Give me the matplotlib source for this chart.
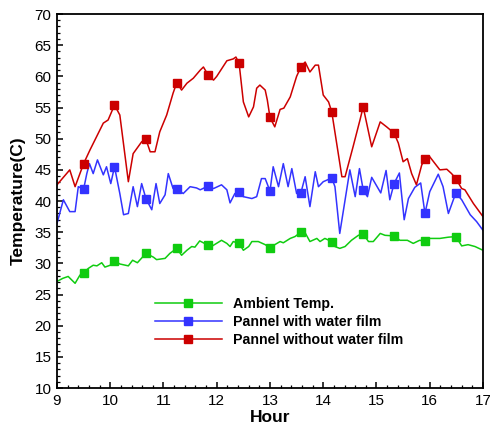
import numpy as np
import matplotlib
matplotlib.use('Agg')
import matplotlib.pyplot as plt
from matplotlib import rcParams
from matplotlib.ticker import MultipleLocator

rcParams['font.family'] = ['Liberation Sans', 'DejaVu Sans']

# hours at which the square markers sit
mark_h = [9.5, 10.08, 10.67, 11.25, 11.84, 12.42, 13.0, 13.58, 14.16, 14.75, 15.33, 15.91, 16.49]

# Pannel without water film
red_h = [9.0, 9.24, 9.34, 9.5, 9.62, 9.87, 9.96, 10.08, 10.18, 10.34, 10.43, 10.59, 10.67,
         10.75, 10.84, 10.93, 11.06, 11.18, 11.25, 11.34, 11.44, 11.56, 11.69, 11.75, 11.84,
         11.94, 12.0, 12.19, 12.31, 12.36, 12.42, 12.5, 12.6, 12.69, 12.75, 12.81, 12.91,
         12.95, 13.0, 13.09, 13.19, 13.26, 13.38, 13.5, 13.58, 13.66, 13.75, 13.85, 13.91,
         14.0, 14.1, 14.16, 14.35, 14.41, 14.56, 14.69, 14.75, 14.91, 15.07, 15.19, 15.33,
         15.41, 15.5, 15.58, 15.66, 15.75, 15.85, 15.91, 16.0, 16.19, 16.32, 16.41, 16.49,
         16.6, 16.66, 16.82, 17.0]
red_t = [42.6, 45.0, 42.3, 46.0, 48.2, 52.5, 53.0, 55.4, 53.8, 43.1, 47.6, 49.5, 49.9,
         47.9, 47.9, 51.1, 53.8, 57.3, 59.0, 57.8, 58.9, 59.7, 61.0, 61.5, 60.2,
         59.4, 60.0, 62.5, 62.8, 63.1, 62.1, 55.9, 53.5, 55.1, 58.1, 58.6, 57.8,
         56.2, 53.4, 51.9, 54.7, 54.9, 56.7, 60.0, 61.5, 62.3, 60.7, 61.8, 61.8,
         57.0, 55.9, 54.3, 43.9, 43.9, 48.7, 53.0, 55.1, 48.7, 52.7, 51.9, 50.9,
         49.3, 46.3, 46.8, 44.4, 42.6, 45.8, 46.7, 47.1, 45.0, 45.1, 44.4, 43.6,
         42.0, 41.8, 39.6, 37.5]

# Pannel with water film
blue_h = [9.0, 9.12, 9.24, 9.34, 9.4, 9.5, 9.56, 9.61, 9.68, 9.76, 9.87, 9.93, 10.01, 10.08,
          10.18, 10.25, 10.34, 10.43, 10.51, 10.59, 10.67, 10.78, 10.86, 10.93, 11.03, 11.09,
          11.18, 11.25, 11.37, 11.5, 11.62, 11.69, 11.84, 11.94, 12.09, 12.19, 12.25, 12.34,
          12.42, 12.5, 12.66, 12.75, 12.84, 12.91, 13.0, 13.06, 13.16, 13.25, 13.34, 13.41,
          13.5, 13.58, 13.66, 13.75, 13.85, 13.91, 14.0, 14.16, 14.22, 14.31, 14.5, 14.6,
          14.68, 14.75, 14.83, 14.91, 15.08, 15.18, 15.25, 15.33, 15.43, 15.52, 15.6, 15.72,
          15.83, 15.91, 16.0, 16.16, 16.25, 16.35, 16.49, 16.6, 16.76, 16.88, 17.0]
blue_t = [36.4, 40.2, 38.3, 38.3, 42.3, 41.9, 44.4, 46.0, 44.4, 46.6, 44.2, 45.5, 42.8, 45.5,
          41.2, 37.8, 38.0, 42.3, 39.1, 42.8, 40.4, 38.6, 42.8, 39.6, 41.0, 44.4,
          42.0, 41.9, 41.2, 42.3, 42.1, 41.8, 42.4, 42.0, 42.6, 41.8, 39.7, 41.2,
          41.4, 40.7, 40.4, 40.7, 43.6, 43.6, 41.6, 45.5, 42.3, 46.0, 42.3, 45.2,
          41.2, 41.3, 43.9, 39.1, 44.7, 42.3, 43.1, 43.7, 42.3, 34.8, 45.0, 40.7,
          45.2, 41.8, 40.7, 43.8, 41.3, 44.9, 40.2, 42.8, 44.5, 37.0, 40.4, 42.2,
          42.9, 38.0, 41.5, 44.3, 42.3, 38.0, 41.3, 40.2, 37.8, 36.7, 35.3]

# Ambient Temp.
green_h = [9.0, 9.11, 9.21, 9.34, 9.43, 9.5, 9.59, 9.68, 9.75, 9.84, 9.9, 10.0, 10.08, 10.18,
           10.34, 10.42, 10.51, 10.67, 10.81, 10.87, 11.03, 11.12, 11.25, 11.34, 11.44, 11.53,
           11.59, 11.68, 11.84, 11.9, 12.09, 12.19, 12.25, 12.31, 12.42, 12.5, 12.6, 12.66,
           12.78, 12.91, 13.0, 13.09, 13.19, 13.25, 13.38, 13.47, 13.58, 13.66, 13.75, 13.88,
           13.94, 14.03, 14.16, 14.22, 14.31, 14.41, 14.53, 14.66, 14.75, 14.85, 14.94, 15.07,
           15.16, 15.33, 15.44, 15.58, 15.69, 15.81, 15.91, 16.0, 16.19, 16.35, 16.49, 16.6,
           16.72, 16.85, 17.0]
green_t = [27.1, 27.6, 27.9, 26.8, 28.1, 28.5, 29.2, 29.7, 29.6, 30.1, 29.4, 29.7, 30.4, 29.9,
           29.6, 30.5, 30.1, 31.6, 31.0, 30.6, 30.8, 31.6, 32.4, 31.3, 32.1, 32.7,
           32.6, 33.6, 32.9, 32.7, 33.7, 33.2, 32.7, 33.5, 33.2, 32.1, 32.7, 33.5,
           33.5, 33.0, 32.5, 33.0, 33.5, 33.3, 34.0, 34.3, 35.0, 34.9, 33.5, 34.0,
           33.5, 34.0, 33.5, 32.7, 32.4, 32.7, 33.7, 34.5, 34.7, 33.5, 33.5, 34.8,
           34.5, 34.4, 33.7, 33.7, 33.2, 33.7, 33.6, 34.0, 34.0, 34.2, 34.3, 32.8,
           33.0, 32.7, 32.1]


def marker_idx(h):
    h = np.asarray(h)
    return [int(np.argmin(np.abs(h - m))) for m in mark_h]


fig = plt.figure(figsize=(4.9, 4.25), dpi=100)
ax = fig.add_axes([0.1163, 0.087, 0.8694, 0.88])

ax.plot(green_h, green_t, color='#10CC10', lw=1.1, marker='s', ms=6,
        markevery=marker_idx(green_h), label='Ambient Temp.')
ax.plot(blue_h, blue_t, color='#3333FF', lw=1.1, marker='s', ms=6,
        markevery=marker_idx(blue_h), label='Pannel with water film')
ax.plot(red_h, red_t, color='#CC0000', lw=1.1, marker='s', ms=6,
        markevery=marker_idx(red_h), label='Pannel without water film')

ax.set_xlim(9, 17)
ax.set_ylim(10, 70)
ax.xaxis.set_major_locator(MultipleLocator(1))
ax.xaxis.set_minor_locator(MultipleLocator(0.2))
ax.yaxis.set_major_locator(MultipleLocator(5))
ax.yaxis.set_minor_locator(MultipleLocator(1))
ax.tick_params(which='both', direction='in', top=False, right=False, labelsize=11, pad=4)
ax.tick_params(which='major', length=4, width=1.1)
ax.tick_params(which='minor', length=2.2, width=0.9)
for s in ax.spines.values():
    s.set_linewidth(1.3)

ax.set_xlabel('Hour', fontsize=12.5, fontweight='bold', labelpad=2)
ax.set_ylabel('Temperature(C)', fontsize=12.5, fontweight='bold', labelpad=6)

ax.legend(loc='center left', bbox_to_anchor=(0.2136, 0.1765), frameon=False,
          prop={'size': 10.2, 'weight': 'bold'}, handlelength=4.7, handletextpad=0.8,
          labelspacing=0.28, borderpad=0, markerscale=0.85, numpoints=1)

fig.savefig('out.png', dpi=100)
